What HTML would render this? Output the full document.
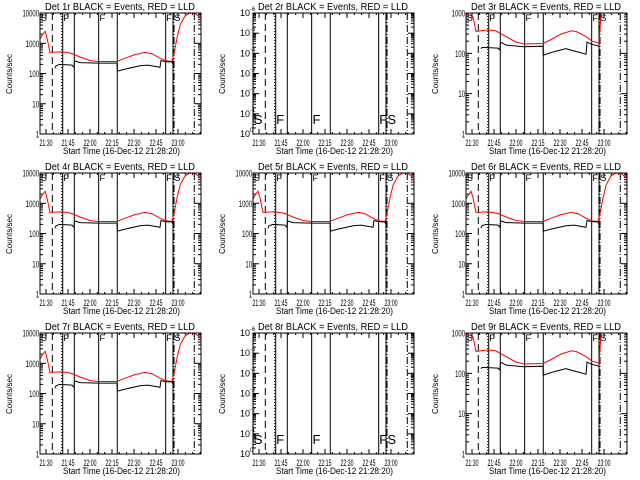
<!DOCTYPE html>
<html><head><meta charset="utf-8"><style>
body{margin:0;background:#fff;width:640px;height:480px;overflow:hidden}
svg{display:block}
text{font-family:"Liberation Sans",sans-serif;fill:#000}
</style></head><body>
<svg id="fig" width="640" height="480" viewBox="0 0 640 480" xmlns="http://www.w3.org/2000/svg"></svg>
<script>
// minutes since 21:30
const tickLabels = ["21:30","21:45","22:00","22:15","22:30","22:45","23:00"];
const tickMinutes = [0,15,30,45,60,75,90];
const vlineMinutes = [4.3,10.7,11.4,19.3,35.9,48.6,81.6,86.6,87.3,101.1];
const vlineStyles = ["dash","dot","solid","solid","solid","solid","solid","solid","dashdot","dashdot"];
const markerLetters = ["S","F","F","F","S"];
const markerMinutes = [-3.5,11.8,36.5,82,87.5];
// series A (4 decades)
const redA_t = [-4,-2.7,-0.7,0.7,2.7,10.9,17.7,23.2,30,35.5,48.4,53.9,60.7,67.5,72.3,77.7,81.8,85.9,87.3,89.3,91.4,94.8,98.2,101.6,105];
const redA_v = [1400,1800,2500,1500,500,520,460,350,270,250,250,320,420,500,450,320,260,250,450,1500,4000,8000,10000,9800,7000];
const blkA_t = [6.1,6.8,9.5,17.7,19,19.4,23.2,35.5,48.4,48.7,53.9,64.1,69.5,77.7,78.4,81,85.9,86.6];
const blkA_v = [150,180,200,190,160,260,230,220,220,120,140,180,190,160,270,250,240,200];
// series B (3 decades)
const redB_t = [-4,-2,0.7,2.7,10.9,16.4,23.2,30,35.5,48.4,53.9,60.7,67.5,70.9,77.7,81.8,86.6,87.3,88];
const redB_v = [1000,900,800,350,380,360,260,190,170,175,220,300,360,350,260,200,180,400,1000];
const blkB_t = [6.1,6.8,17.7,19,19.4,23.2,35.5,48.4,48.7,53.9,64.1,69.5,77.7,78.4,81,86.6];
const blkB_v = [130,140,135,120,190,160,145,150,90,105,130,115,95,190,170,150];

const panels = [
 {n:"1r",type:"A"},{n:"2r",type:"E"},{n:"3r",type:"B"},
 {n:"4r",type:"A"},{n:"5r",type:"A"},{n:"6r",type:"A"},
 {n:"7r",type:"A"},{n:"8r",type:"E"},{n:"9r",type:"B"}];

const NS="http://www.w3.org/2000/svg";
const fig=document.getElementById('fig');
function mk(tag,attrs,parent){const e=document.createElementNS(NS,tag);for(const k in attrs)e.setAttribute(k,attrs[k]);(parent||fig).appendChild(e);return e;}
const BL=40,BR=201,BT=13,BB=134;
function xOf(m){return 46+m*22/15;}

panels.forEach((p,i)=>{
  const ox=(i%3)*213, oy=Math.floor(i/3)*160;
  const g=mk('g',{transform:`translate(${ox},${oy})`});
  
  
  let lo,hi,labels;
  if(p.type==="A"){lo=0;hi=4;labels=["1","10","100","1000","10000"];}
  else if(p.type==="B"){lo=0;hi=3;labels=["1","10","100","1000"];}
  else {lo=0;hi=6;labels=["0","-1","-2","-3","-4","-5","-6"];}
  const yOf=v=>BB-(Math.log10(v)-lo)/(hi-lo)*(BB-BT);
  const yDec=d=>BB-d/(hi-lo)*(BB-BT);
  // title
  const t=mk('text',{x:45,y:10,'font-size':10,textLength:150,lengthAdjust:'spacingAndGlyphs'},g);
  t.textContent=`Det ${p.n} BLACK = Events, RED = LLD`;
  
  
  // y label
  const yl=mk('text',{x:0,y:0,'font-size':8,'text-anchor':'middle',transform:`translate(12,74) rotate(-90)`},g);
  yl.textContent="Counts/sec";
  
  
  // x title
  const xl=mk('text',{x:63,y:154,'font-size':9.5,textLength:117,lengthAdjust:'spacingAndGlyphs'},g);
  xl.textContent="Start Time (16-Dec-12 21:28:20)";
  
  
  // x ticks
  tickLabels.forEach((lb,k)=>{
    const x=xOf(tickMinutes[k]);
    const tl=mk('text',{x:x-6.5,y:146,'font-size':9.5,textLength:13,lengthAdjust:'spacingAndGlyphs'},g);
    tl.textContent=lb;
    
    
    mk('line',{x1:x,x2:x,y1:BB,y2:BB-5,stroke:'#000','stroke-width':1},g);
    mk('line',{x1:x,x2:x,y1:BT,y2:BT+5,stroke:'#000','stroke-width':1},g);
  });
  for(let m=-5;m<=105;m+=5){const x=xOf(m);if(x<=BL||x>=BR)continue;
    mk('line',{x1:x,x2:x,y1:BB,y2:BB-2,stroke:'#000'},g);mk('line',{x1:x,x2:x,y1:BT,y2:BT+2,stroke:'#000'},g);}
  // y ticks
  for(let d=0;d<=hi-lo;d++){
    const y=yDec(d);
    mk('line',{x1:BL,x2:BL+6,y1:y,y2:y,stroke:'#000'},g);
    mk('line',{x1:BR,x2:BR-6,y1:y,y2:y,stroke:'#000'},g);
    if(p.type==="E"){
      const tl=mk('text',{x:BL-3,y:y+3,'font-size':9,'text-anchor':'end'},g);
      tl.textContent="10";
      
      
      const sp=mk('text',{x:BL-3,y:y-2,'font-size':6},g);
      sp.textContent=labels[d];
    } else {
      const s=labels[d];
      const tl=mk('text',{x:BL-1-s.length*3.3,y:y+3.5,'font-size':9.5,textLength:s.length*3.3,lengthAdjust:'spacingAndGlyphs'},g);
      tl.textContent=s;
      
      
    }
    if(d<hi-lo) for(let k=2;k<10;k++){const yy=y-Math.log10(k)/(hi-lo)*(BB-BT);
      mk('line',{x1:BL,x2:BL+3,y1:yy,y2:yy,stroke:'#000'},g);mk('line',{x1:BR,x2:BR-3,y1:yy,y2:yy,stroke:'#000'},g);}
  }
  // vertical lines
  vlineMinutes.forEach((m,k)=>{
    const x=xOf(m);const st=vlineStyles[k];
    const a={x1:x,x2:x,y1:BT,y2:BB,stroke:'#000','stroke-width':1};
    if(st==="dash")a['stroke-dasharray']='7,4';
    if(st==="dot")a['stroke-dasharray']='1,2';
    if(st==="dashdot")a['stroke-dasharray']='7,2,1,2';
    const l=mk('line',a,g);
    
    
  });
  // letters
  markerLetters.forEach((L,k)=>{
    const x=xOf(markerMinutes[k]);
    const big=p.type==="E";
    const tl=mk('text',{x:x,y:big?124:21,'font-size':big?13:9},g);
    tl.textContent=L;
    
    
  });
  // series
  const clip='clip'+i;
  const cp=mk('clipPath',{id:clip},g);mk('rect',{x:BL,y:BT,width:BR-BL,height:BB-BT},cp);
  function series(ts,vs,col,name){
    const pts=ts.map((tm,k)=>xOf(tm).toFixed(1)+','+yOf(vs[k]).toFixed(1)).join(' ');
    const pl=mk('polyline',{points:pts,fill:'none',stroke:col,'stroke-width':1,'clip-path':`url(#${clip})`},g);
    
    
  }
  if(p.type==="A"){series(redA_t,redA_v,'#f00','red-lld-series');series(blkA_t,blkA_v,'#000','black-events-series');}
  if(p.type==="B"){series(redB_t,redB_v,'#f00','red-lld-series');series(blkB_t,blkB_v,'#000','black-events-series');}
  // box
  const bx=mk('rect',{x:BL,y:BT,width:BR-BL,height:BB-BT,fill:'none',stroke:'#000','stroke-width':1},g);
  
  
});
</script>
</body></html>
